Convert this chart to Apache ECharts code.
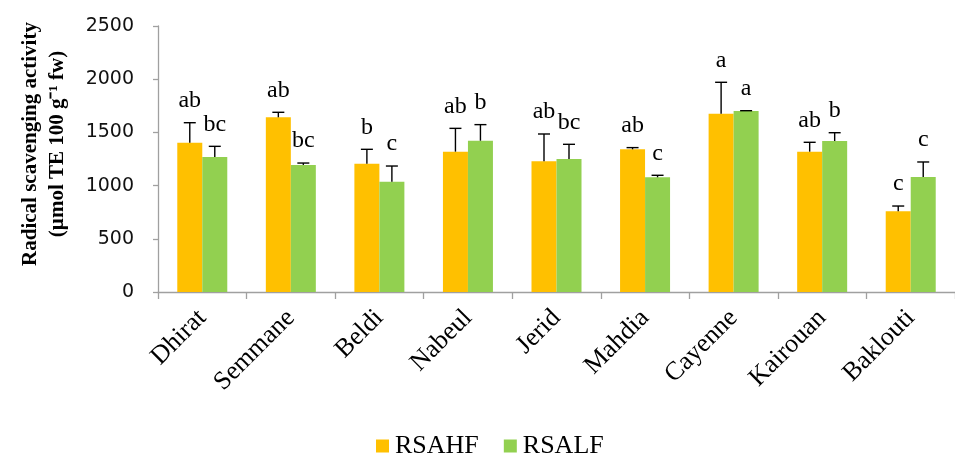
<!DOCTYPE html>
<html>
<head>
<meta charset="utf-8">
<script src="https://cdn.jsdelivr.net/npm/echarts@6/dist/echarts.min.js"></script>
<style>html,body{margin:0;padding:0;background:#fff;}#c{width:955px;height:454px;}</style>
</head>
<body>
<div id="c"></div>
<script>
const categories = ['Dhirat','Semmane','Beldi','Nabeul','Jerid','Mahdia','Cayenne','Kairouan','Baklouti'];
const rsahf = [1403, 1642, 1206, 1319, 1228, 1341, 1676, 1319, 758];
const rsahfErr = [188, 47, 135, 219, 257, 16, 295, 88, 50];
const rsahfLetters = ['ab','ab','b','ab','ab','ab','a','ab','c'];
const rsalf = [1269, 1194, 1037, 1422, 1250, 1078, 1701, 1419, 1081];
const rsalfErr = [100, 18, 147, 151, 138, 19, 3, 78, 141];
const rsalfLetters = ['bc','bc','c','b','bc','c','a','b','c'];
const yTicks = [0, 500, 1000, 1500, 2000, 2500];

const ORANGE = '#FFC000', GREEN = '#92D050', AXIS = '#A0A0A0';
const BAR_W = 25;
const SERIF = '"Liberation Serif", "Times New Roman", serif';

function errSeries(vals, errs, letters, offset) {
  return {
    type: 'custom',
    silent: true,
    z: 5,
    data: vals.map((v, i) => [i, v, v + errs[i], letters[i]]),
    encode: { x: 0, y: [1, 2] },
    renderItem: function (params, api) {
      const i = api.value(0);
      const base = api.coord([i, api.value(1)]);
      const top = api.coord([i, api.value(2)]);
      const x = base[0] + offset;
      const half = 6;
      return {
        type: 'group',
        children: [
          { type: 'line', shape: { x1: x, y1: base[1], x2: x, y2: top[1] }, style: { stroke: '#000', lineWidth: 1.4 } },
          { type: 'line', shape: { x1: x - half, y1: top[1], x2: x + half, y2: top[1] }, style: { stroke: '#000', lineWidth: 1.4 } },
          { type: 'text', x: x, y: top[1] - 10, style: { text: api.value(3), fill: '#000', font: '24px ' + SERIF, align: 'center', verticalAlign: 'bottom' } }
        ]
      };
    }
  };
}

const chart = echarts.init(document.getElementById('c'), null, { renderer: 'canvas' });
chart.setOption({
  animation: false,
  backgroundColor: '#fff',
  grid: { left: 158, top: 26, width: 809, height: 266, containLabel: false },
  legend: {
    left: 371, top: 428,
    itemWidth: 13, itemHeight: 13, itemGap: 25,
    icon: 'rect',
    textStyle: { fontFamily: SERIF, fontSize: 26, color: '#000', padding: [0, 0, 0, 1] },
    data: ['RSAHF', 'RSALF']
  },
  xAxis: {
    type: 'category',
    data: categories,
    axisLine: { lineStyle: { color: AXIS, width: 1.3 } },
    axisTick: { show: true, length: 7, lineStyle: { color: AXIS, width: 1.3 } },
    axisLabel: { rotate: 45, margin: 22, interval: 0, color: '#000', fontFamily: SERIF, fontSize: 26 }
  },
  yAxis: {
    type: 'value',
    min: yTicks[0], max: yTicks[yTicks.length - 1], interval: yTicks[1] - yTicks[0],
    axisLine: { show: true, lineStyle: { color: AXIS, width: 1.3 } },
    axisTick: { show: true, length: 5, lineStyle: { color: AXIS, width: 1.3 } },
    splitLine: { show: false },
    axisLabel: { margin: 24, color: '#111', fontFamily: '"DejaVu Sans", sans-serif', fontSize: 19, formatter: v => String(v) }
  },
  graphic: [{
    type: 'text',
    x: 44, y: 144,
    rotation: Math.PI / 2,
    style: {
      text: 'Radical scavenging activity\n(µmol TE 100 g⁻¹ fw)',
      font: 'bold 21px ' + SERIF,
      fill: '#000', align: 'center', verticalAlign: 'middle', lineHeight: 27
    }
  }],
  series: [
    { name: 'RSAHF', type: 'bar', data: rsahf, barWidth: BAR_W, barGap: '0%', itemStyle: { color: ORANGE } },
    { name: 'RSALF', type: 'bar', data: rsalf, barWidth: BAR_W, barGap: '0%', itemStyle: { color: GREEN } },
    errSeries(rsahf, rsahfErr, rsahfLetters, -BAR_W / 2),
    errSeries(rsalf, rsalfErr, rsalfLetters, BAR_W / 2)
  ]
});
</script>
</body>
</html>
